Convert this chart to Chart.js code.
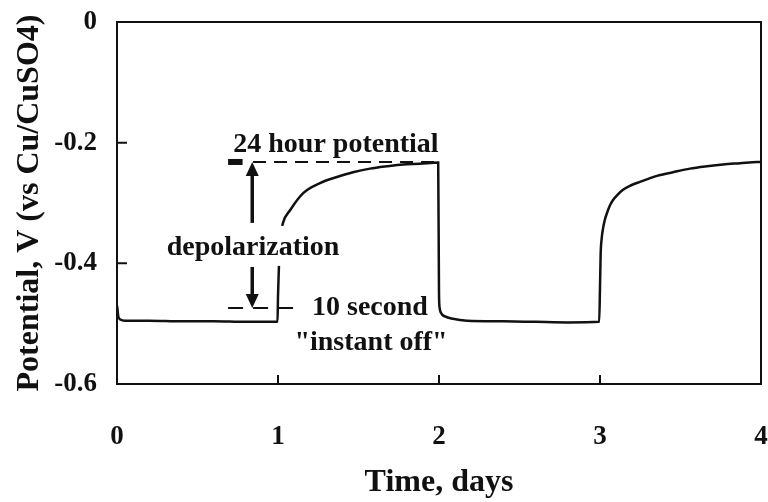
<!DOCTYPE html>
<html>
<head>
<meta charset="utf-8">
<script src="https://cdn.jsdelivr.net/npm/chart.js@4.4.0/dist/chart.umd.min.js"></script>
<style>
  html, body { margin: 0; padding: 0; background: #fff; }
  #wrap { width: 768px; height: 502px; position: relative; }
</style>
</head>
<body>
<div id="wrap"><canvas id="potentialChart"></canvas></div>
<script>
// Potential vs time over two on/off cycles (days)

const timeDays = [
  0, 0.002, 0.008, 0.02, 0.05, 0.1, 0.2, 0.4, 0.6, 0.8, 0.95, 0.997,
  1.0, 1.004, 1.01, 1.02, 1.031, 1.075, 1.155, 1.261, 1.366, 1.466, 1.571, 1.677, 1.776, 1.882, 1.995,
  2.0, 2.004, 2.012, 2.037, 2.087, 2.174, 2.4, 2.6, 2.8, 2.995,
  3.0, 3.004, 3.01, 3.019, 3.03, 3.043, 3.06, 3.081, 3.11, 3.143, 3.19, 3.248, 3.3, 3.354, 3.453, 3.559, 3.665, 3.764, 3.87, 3.975, 4.0
];

const potentialV = [
  -0.470, -0.474, -0.488, -0.493, -0.495, -0.495, -0.495, -0.496, -0.496, -0.497, -0.497, -0.497,
  -0.455, -0.42, -0.375, -0.350, -0.333, -0.312, -0.284, -0.267, -0.257, -0.249, -0.243, -0.239, -0.236, -0.235, -0.233,
  -0.45, -0.474, -0.482, -0.488, -0.492, -0.495, -0.496, -0.497, -0.498, -0.497,
  -0.44, -0.385, -0.360, -0.342, -0.328, -0.317, -0.305, -0.295, -0.286, -0.278, -0.271, -0.265, -0.260, -0.255, -0.249, -0.243, -0.239, -0.236, -0.234, -0.232, -0.232
];

const xTicks = [0, 1, 2, 3, 4];
const xTickLabels = ['0', '1', '2', '3', '4'];
const yTicks = [0, -0.2, -0.4, -0.6];
const yTickLabels = ['0', '-0.2', '-0.4', '-0.6'];

// annotation anchors, in data units
const level24h = -0.232;
const levelOff = -0.474;
const arrowDay = 0.84;
const upArrowFrom = -0.333;
const downArrowFrom = -0.406;
const blockDays = [0.69, 0.78];
const topDashDays = [0.845, 2.0];
const lowDashDays = [0.69, 1.15];
const labelTop = { text: '24 hour potential', day: 1.36, v: -0.2155 };
const labelMid = { text: 'depolarization', day: 0.845, v: -0.386 };
const labelOff1 = { text: '10 second', day: 1.571, v: -0.486 };
const labelOff2 = { text: '"instant off"', day: 1.578, v: -0.544 };

const serif = "'Liberation Serif', 'Times New Roman', serif";
const ink = '#111';

function drawArrow(ctx, x, y0, y1) {
  const dir = y1 < y0 ? -1 : 1;
  const head = 14;
  ctx.beginPath();
  ctx.moveTo(x, y0);
  ctx.lineTo(x, y1 - dir * head);
  ctx.lineWidth = 3.5;
  ctx.stroke();
  ctx.beginPath();
  ctx.moveTo(x, y1);
  ctx.lineTo(x - 6.5, y1 - dir * head);
  ctx.lineTo(x + 6.5, y1 - dir * head);
  ctx.closePath();
  ctx.fill();
}

const frameAndNotes = {
  id: 'frameAndNotes',
  afterDatasetsDraw(chart) {
    const { ctx, chartArea: a, scales: { x, y } } = chart;
    ctx.save();
    ctx.strokeStyle = ink;
    ctx.fillStyle = ink;

    // plot frame
    ctx.lineWidth = 2;
    ctx.strokeRect(a.left, a.top, a.right - a.left, a.bottom - a.top);

    // tick marks pointing into the plot
    ctx.beginPath();
    xTicks.forEach(v => {
      const px = x.getPixelForValue(v);
      ctx.moveTo(px, a.bottom);
      ctx.lineTo(px, a.bottom - 9);
    });
    yTicks.forEach(v => {
      const py = y.getPixelForValue(v);
      ctx.moveTo(a.left, py);
      ctx.lineTo(a.left + 10, py);
    });
    ctx.stroke();

    // dashed reference levels
    ctx.lineWidth = 2;
    ctx.setLineDash([13, 8]);
    ctx.beginPath();
    ctx.moveTo(x.getPixelForValue(topDashDays[0]), y.getPixelForValue(level24h));
    ctx.lineTo(x.getPixelForValue(topDashDays[1]), y.getPixelForValue(level24h));
    ctx.stroke();
    ctx.setLineDash([15, 10]);
    ctx.beginPath();
    ctx.moveTo(x.getPixelForValue(lowDashDays[0]), y.getPixelForValue(levelOff));
    ctx.lineTo(x.getPixelForValue(lowDashDays[1]), y.getPixelForValue(levelOff));
    ctx.stroke();
    ctx.setLineDash([]);

    const bx0 = x.getPixelForValue(blockDays[0]);
    const bx1 = x.getPixelForValue(blockDays[1]);
    const by = y.getPixelForValue(level24h);
    ctx.fillRect(bx0, by - 3, bx1 - bx0, 6);

    // depolarization label sits on a white box over the curve
    ctx.font = `bold 28px ${serif}`;
    ctx.textAlign = 'center';
    ctx.textBaseline = 'alphabetic';
    const mx = x.getPixelForValue(labelMid.day);
    const my = y.getPixelForValue(labelMid.v);
    const mw = ctx.measureText(labelMid.text).width;
    ctx.fillStyle = '#fff';
    ctx.fillRect(mx - mw / 2 - 2, my - 29, mw + 4, 40);
    ctx.fillStyle = ink;
    ctx.fillText(labelMid.text, mx, my);

    // arrows
    const ax = x.getPixelForValue(arrowDay);
    drawArrow(ctx, ax, y.getPixelForValue(upArrowFrom), y.getPixelForValue(level24h));
    drawArrow(ctx, ax, y.getPixelForValue(downArrowFrom), y.getPixelForValue(levelOff));

    [labelTop, labelOff1, labelOff2].forEach(l => {
      ctx.fillText(l.text, x.getPixelForValue(l.day), y.getPixelForValue(l.v));
    });
    ctx.restore();
  }
};

const points = timeDays.map((d, i) => ({ x: d, y: potentialV[i] }));

new Chart(document.getElementById('potentialChart'), {
  type: 'scatter',
  data: {
    datasets: [{
      data: points,
      showLine: true,
      borderColor: ink,
      borderWidth: 2.5,
      pointRadius: 0,
      cubicInterpolationMode: 'monotone',
      fill: false
    }]
  },
  options: {
    responsive: true,
    maintainAspectRatio: false,
    animation: false,
    layout: { padding: { top: 22, right: 7, left: 0, bottom: 0 } },
    plugins: {
      legend: { display: false },
      tooltip: { enabled: false }
    },
    scales: {
      x: {
        type: 'linear',
        min: 0,
        max: 4,
        afterBuildTicks: s => { s.ticks = xTicks.map(v => ({ value: v })); },
        afterFit: s => { s.height = 118; s.paddingLeft = 0; s.paddingRight = 0; },
        grid: { display: false, drawTicks: false },
        border: { display: false },
        ticks: {
          padding: 37,
          color: ink,
          font: { family: serif, size: 27, weight: 'bold' },
          callback: (v, i) => xTickLabels[i]
        },
        title: {
          display: true,
          text: 'Time, days',
          color: ink,
          font: { family: serif, size: 32, weight: 'bold' },
          padding: { top: 0, bottom: 0 }
        }
      },
      y: {
        type: 'linear',
        min: -0.6,
        max: 0,
        afterBuildTicks: s => { s.ticks = yTicks.map(v => ({ value: v })); },
        afterFit: s => { s.width = 117; s.paddingTop = 0; s.paddingBottom = 0; },
        grid: { display: false, drawTicks: false },
        border: { display: false },
        ticks: {
          padding: 20,
          color: ink,
          font: { family: serif, size: 27, weight: 'bold' },
          callback: (v, i) => yTickLabels[i]
        },
        title: {
          display: true,
          text: 'Potential, V (vs Cu/CuSO4)',
          color: ink,
          font: { family: serif, size: 32, weight: 'bold' },
          padding: { top: 11, bottom: 0 }
        }
      }
    }
  },
  plugins: [frameAndNotes]
});
</script>
</body>
</html>
